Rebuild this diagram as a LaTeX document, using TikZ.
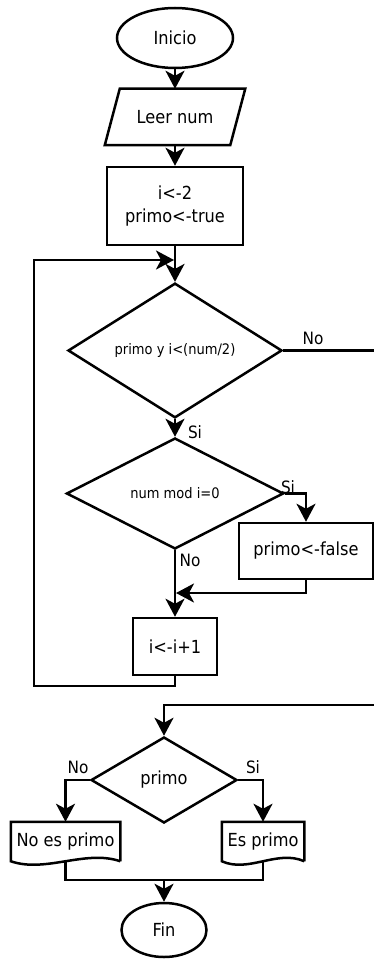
\documentclass[tikz,border=0pt]{standalone}
\usepackage{fontspec}
\setmainfont[FakeStretch=0.9]{DejaVu Sans}
\usetikzlibrary{arrows.meta,shapes.geometric,calc}

\begin{document}
\begin{tikzpicture}[x=1pt,y=-1pt,line width=2.5pt,
  every node/.style={font=\fontsize{18}{23}\selectfont,inner sep=0pt},
  flow/.style={-{Stealth[length=18pt,width=19pt,inset=5pt]}},
  terminal/.style={draw,ellipse},
  procbox/.style={draw,rectangle,align=center},
  decision/.style={draw,diamond},
  smalltxt/.style={font=\fontsize{14.5}{17}\selectfont},
  lbl/.style={font=\fontsize{17}{19}\selectfont}]

\useasboundingbox (0,0) rectangle (374,960);

% --- shapes ---
\node[terminal,minimum width=116,minimum height=60] (inicio) at (175,38) {Inicio};

\node[minimum width=108,minimum height=54] (leer) at (175,117) {Leer num};
\draw (leer.north west) -- ([xshift=15pt]leer.north east) -- (leer.south east)
      -- ([xshift=-15pt]leer.south west) -- cycle;

\node[procbox,minimum width=136,minimum height=78] (init) at (175,206) {i<-2\\primo<-true};

\node[decision,smalltxt,minimum width=214,minimum height=125] (d1) at (175,350.5) {primo y i<(num/2)};

\node[decision,smalltxt,minimum width=217,minimum height=111] (d2) at (175,493.5) {num mod i=0};

\node[procbox,minimum width=134,minimum height=56] (pf) at (306,551) {primo<-false};

\node[procbox,minimum width=84,minimum height=57] (inc) at (175,646.5) {i<-i+1};

\node[decision,minimum width=146,minimum height=86] (d3) at (164,780) {primo};

\node[minimum width=107,minimum height=37] (nep) at (65.5,841.5) {No es primo};
\draw (nep.south east) -- (nep.north east) -- (nep.north west) -- (nep.south west)
      .. controls +(35,12) and +(-35,-12) .. (nep.south east);

\node[minimum width=80,minimum height=37] (ep) at (263,841.5) {Es primo};
\draw (ep.south east) -- (ep.north east) -- (ep.north west) -- (ep.south west)
      .. controls +(27,12) and +(-27,-12) .. (ep.south east);

\node[terminal,minimum width=85,minimum height=54] (fin) at (164,930) {Fin};

% --- helper points ---
\coordinate (jn) at (175,260);
\coordinate (lpa) at (34,686);
\coordinate (lpb) at (34,260);
\coordinate (d1out) at (374,350.5);
\coordinate (jn2) at (175,593);
\coordinate (rin) at (374,705);
\coordinate (mrg) at (164,880);

% --- connectors ---
\draw[flow] (inicio.south) -- (leer.north);
\draw[flow] (leer.south) -- (init.north);
\draw[flow] (init.south) -- (d1.north);
\draw[flow] (inc.south) |- (lpa) -- (lpb) -- ([xshift=-1pt]jn);
\draw (d1.east) -- (d1out);
\draw[flow] (d1.south) -- (d2.north);
\draw[flow] (d2.east) -| (pf.north);
\draw[flow] (pf.south) |- ([xshift=1pt]jn2);
\draw[flow] (d2.south) -- (inc.north);
\draw[flow] (rin) -| (d3.north);
\draw[flow] (d3.west) -| (nep.north);
\draw[flow] (d3.east) -| (ep.north);
\draw (nep.south) |- (mrg);
\draw (ep.south) |- (mrg);
\draw[flow] (mrg) -- (fin.north);

% --- branch labels ---
\node[lbl] (l1) at (313,338) {No};
\node[lbl] (l2) at (195,432) {Si};
\node[lbl] (l3) at (288,487) {Si};
\node[lbl] (l4) at (190,560) {No};
\node[lbl] (l5) at (78,767) {No};
\node[lbl] (l6) at (253,767) {Si};
\end{tikzpicture}
\end{document}
